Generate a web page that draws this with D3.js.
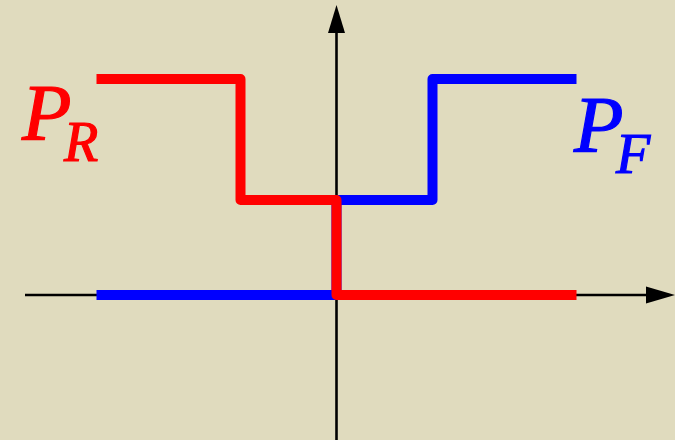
<!DOCTYPE html>
<html>
<head>
<meta charset="utf-8">
<script src="https://cdn.jsdelivr.net/npm/d3@7"></script>
<style>
  html, body { margin: 0; padding: 0; background: #e0dbbe; }
  svg { display: block; }
  .lbl { font-family: "Liberation Serif", serif; font-style: italic; }
</style>
</head>
<body>
<script>
// step functions, x in abstract units, y as fraction of top level
var redX = [-2.5, -1, 0, 2.5];
var redY = [1, 0.44, 0, 0];
var blueX = [-2.5, 0, 1, 2.5];
var blueY = [0, 0.44, 1, 1];
var labels = [
  {main: "P", sub: "R", color: "#ff0000"},
  {main: "P", sub: "F", color: "#0000ff"}
];

var W = 675, H = 440;
var x = d3.scaleLinear().domain([-2.5, 2.5]).range([96.5, 576.5]);
var y = d3.scaleLinear().domain([0, 1]).range([295, 79]);

var svg = d3.select("body").append("svg").attr("width", W).attr("height", H);
svg.append("rect").attr("width", W).attr("height", H).attr("fill", "#e0dbbe");

// axes with arrowheads
var x0 = x(0), y0 = y(0);
svg.append("line").attr("x1", 25).attr("x2", 650).attr("y1", y0).attr("y2", y0)
  .attr("stroke", "#000").attr("stroke-width", 2.6);
svg.append("path").attr("d", "M675," + y0 + "L646," + (y0 - 8.5) + "L646," + (y0 + 8.5) + "Z")
  .attr("fill", "#000");
svg.append("line").attr("x1", x0).attr("x2", x0).attr("y1", 30).attr("y2", H)
  .attr("stroke", "#000").attr("stroke-width", 2.6);
svg.append("path").attr("d", "M" + x0 + ",5L" + (x0 - 8.5) + ",33L" + (x0 + 8.5) + ",33Z")
  .attr("fill", "#000");

var line = d3.line()
  .x(function(d) { return x(d[0]); })
  .y(function(d) { return y(d[1]); })
  .curve(d3.curveStepAfter);

function draw(xs, ys, color) {
  svg.append("path")
    .datum(d3.zip(xs, ys))
    .attr("d", line)
    .attr("fill", "none")
    .attr("stroke", color)
    .attr("stroke-width", 10)
    .attr("stroke-linejoin", "round")
    .attr("stroke-linecap", "butt");
}
draw(blueX, blueY, "#0000ff");
draw(redX, redY, "#ff0000");

// labels
var pos = [[22, 140], [574, 152]];
labels.forEach(function(l, i) {
  var g = svg.append("g").attr("class", "lbl").attr("fill", l.color)
    .attr("stroke", l.color).attr("stroke-width", 1.2);
  g.append("text").attr("x", pos[i][0]).attr("y", pos[i][1])
    .attr("font-size", 81).text(l.main);
  g.append("text").attr("x", pos[i][0] + 42).attr("y", pos[i][1] + 21)
    .attr("font-size", 56).text(l.sub);
});
</script>
</body>
</html>
